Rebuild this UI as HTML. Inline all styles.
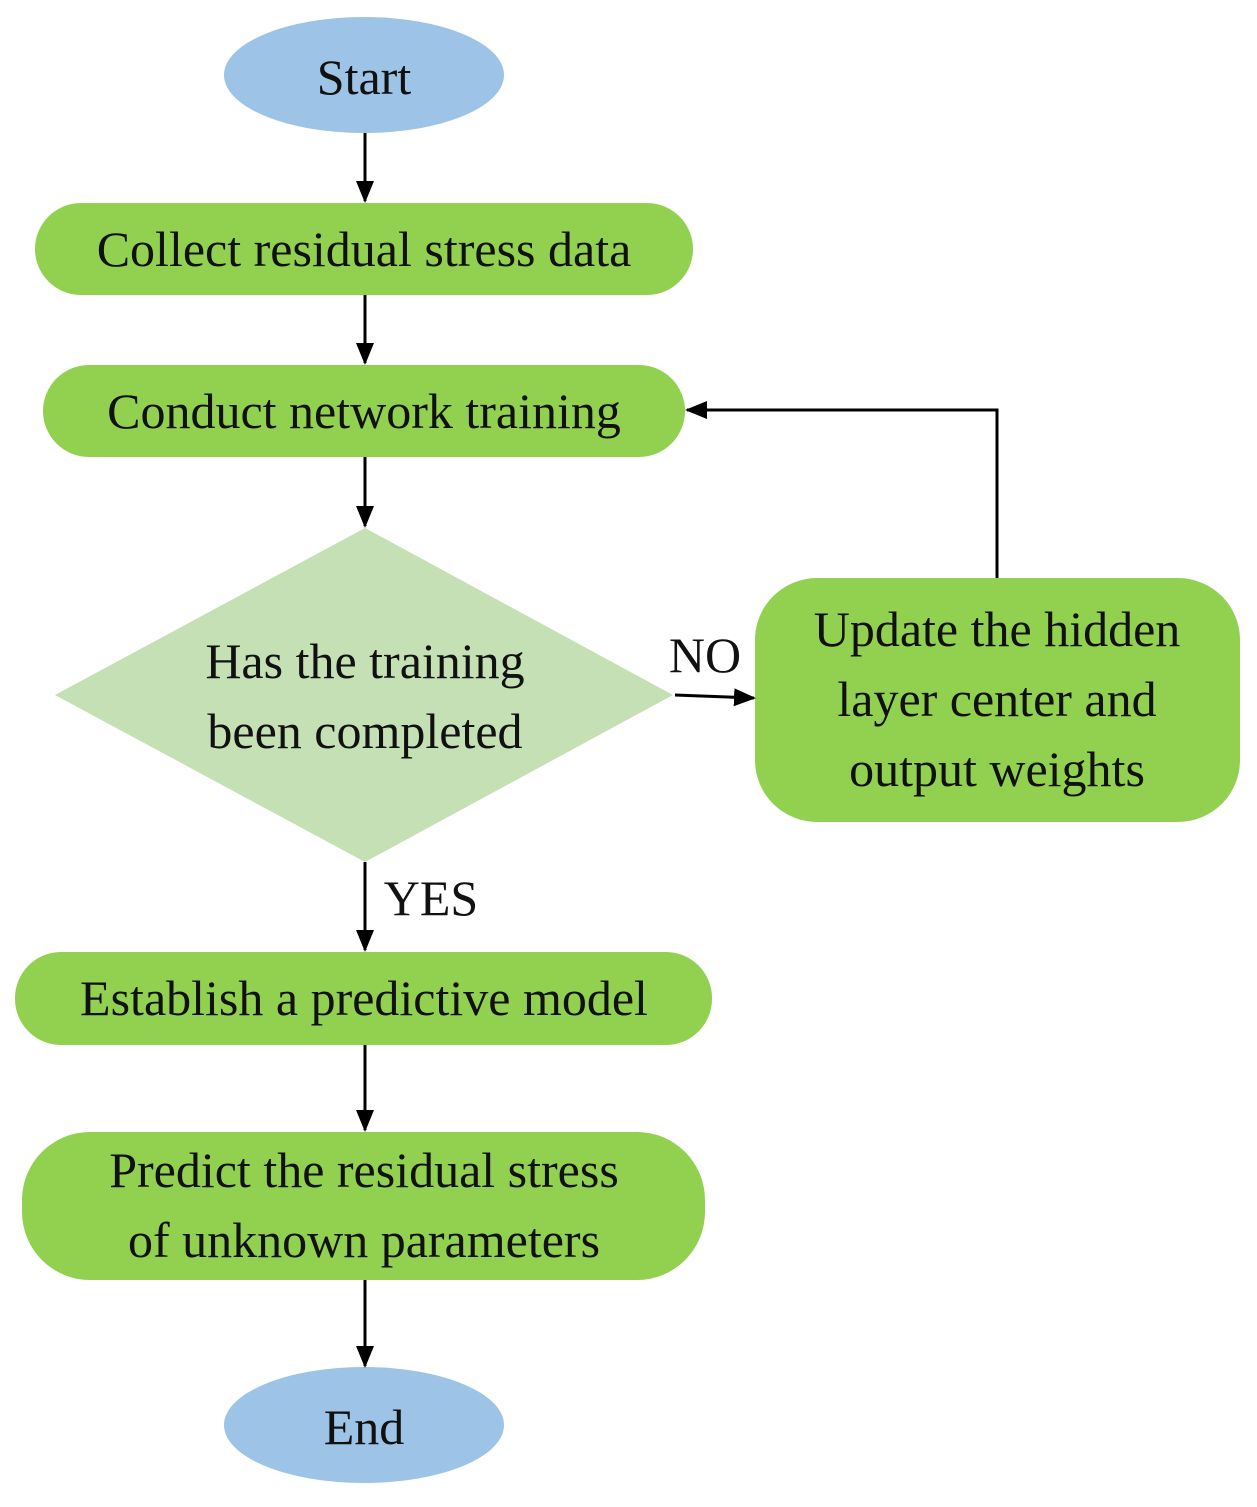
<!DOCTYPE html>
<html><head><meta charset="utf-8"><style>
html,body{margin:0;padding:0;background:#fff;}
svg{display:block;}
text{font-family:"Liberation Serif",serif;font-size:50px;fill:#111;text-anchor:middle;}
</style></head><body>
<svg width="1257" height="1507" viewBox="0 0 1257 1507" xmlns="http://www.w3.org/2000/svg">
<defs><marker id="a" markerWidth="10" markerHeight="10" refX="9" refY="5" orient="auto" markerUnits="userSpaceOnUse" viewBox="0 0 10 10"><path d="M0,0 L10,5 L0,10 z" fill="#000"/></marker>
<marker id="b" markerWidth="22" markerHeight="22" refX="20" refY="11" orient="auto" markerUnits="userSpaceOnUse"><path d="M0,2 L22,11 L0,20 z" fill="#000"/></marker></defs>
<ellipse cx="364" cy="75" rx="140" ry="58" fill="#9dc3e6"/>
<text x="364" y="94">Start</text>
<rect x="35" y="203" width="658" height="92" rx="46" fill="#92d050"/>
<text x="364" y="266">Collect residual stress data</text>
<rect x="43" y="365" width="642" height="92" rx="46" fill="#92d050"/>
<text x="364" y="428">Conduct network training</text>
<polygon points="365,528 673,695 365,862 55,695" fill="#c5e0b4"/>
<text x="365" y="678">Has the training</text>
<text x="365" y="748">been completed</text>
<rect x="755" y="578" width="485" height="244" rx="62" fill="#92d050"/>
<text x="997" y="646">Update the hidden</text>
<text x="997" y="716">layer center and</text>
<text x="997" y="786">output weights</text>
<text x="705" y="672">NO</text>
<text x="431" y="915">YES</text>
<rect x="15" y="952" width="697" height="93" rx="46" fill="#92d050"/>
<text x="364" y="1015">Establish a predictive model</text>
<rect x="22" y="1132" width="683" height="148" rx="68" fill="#92d050"/>
<text x="364" y="1187">Predict the residual stress</text>
<text x="364" y="1257">of unknown parameters</text>
<ellipse cx="364" cy="1425" rx="140" ry="58" fill="#9dc3e6"/>
<text x="364" y="1444">End</text>
<g stroke="#000" stroke-width="3" fill="none">
<line x1="365" y1="133" x2="365" y2="201" marker-end="url(#b)"/>
<line x1="365" y1="295" x2="365" y2="363" marker-end="url(#b)"/>
<line x1="365" y1="457" x2="365" y2="526" marker-end="url(#b)"/>
<line x1="675" y1="695" x2="754" y2="698" marker-end="url(#b)"/>
<polyline points="997,578 997,410 687,410" marker-end="url(#b)"/>
<line x1="365" y1="862" x2="365" y2="950" marker-end="url(#b)"/>
<line x1="365" y1="1045" x2="365" y2="1130" marker-end="url(#b)"/>
<line x1="365" y1="1280" x2="365" y2="1366" marker-end="url(#b)"/>
</g>
</svg>
</body></html>
